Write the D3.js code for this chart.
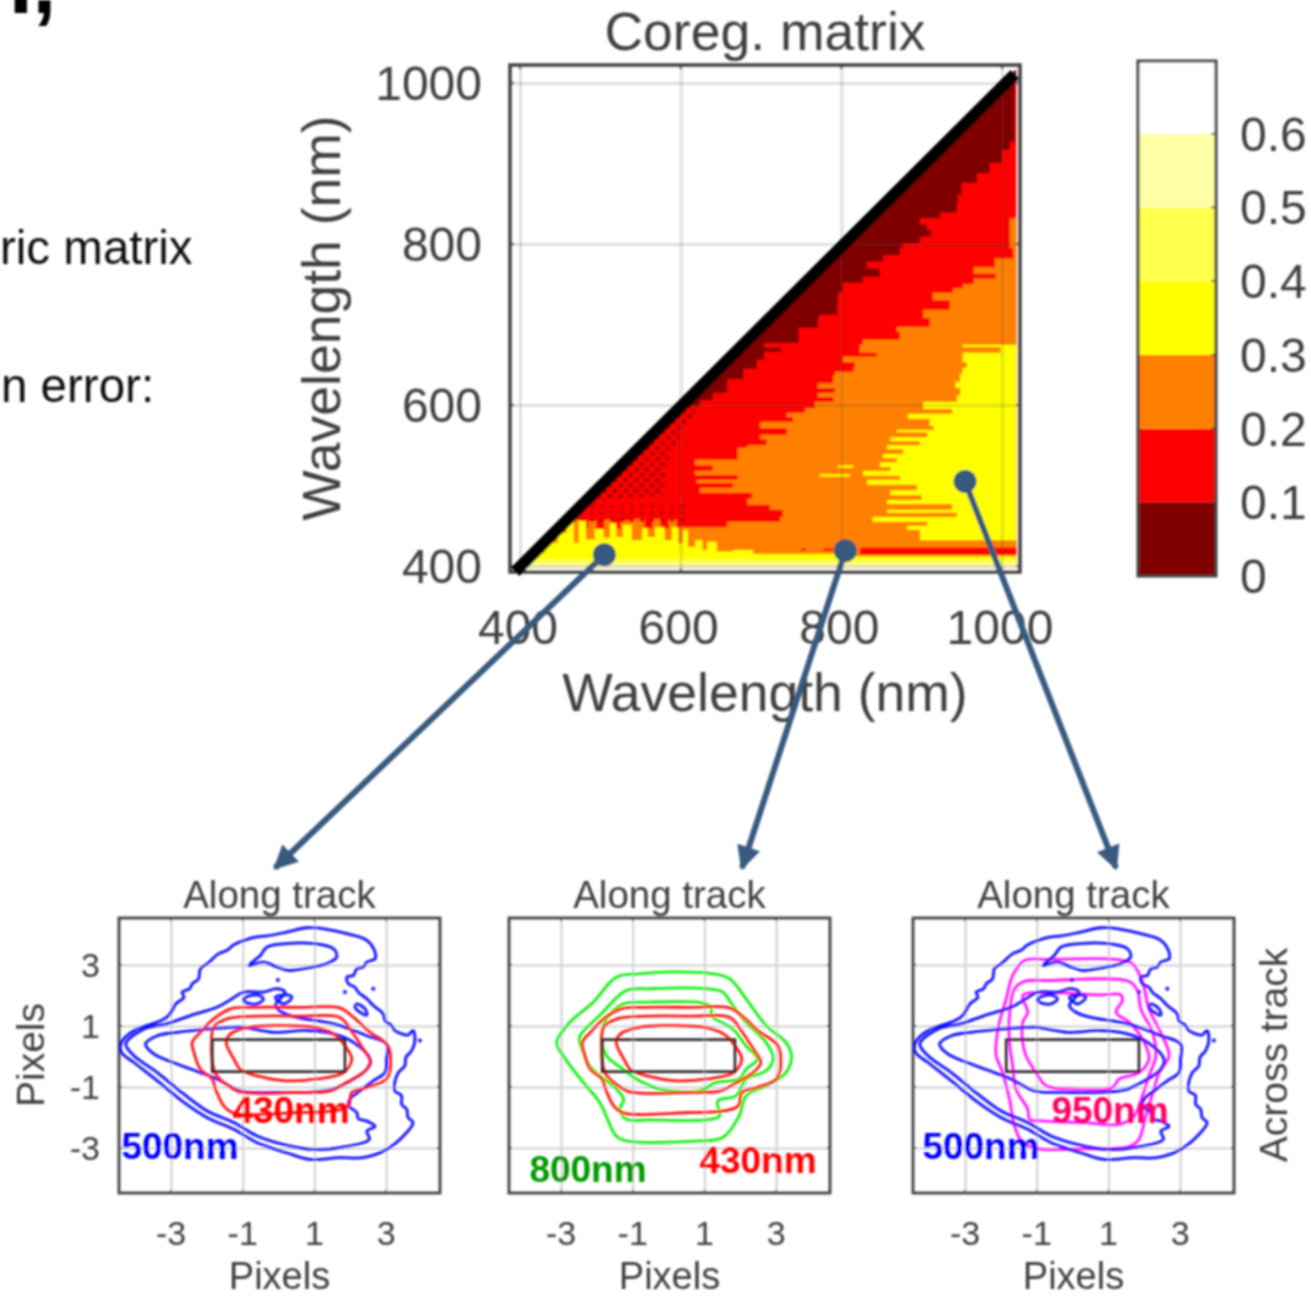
<!DOCTYPE html>
<html>
<head>
<meta charset="utf-8">
<script src="https://d3js.org/d3.v7.min.js"></script>
<style>
  html, body { margin: 0; background: #fff; }
  text { font-family: "Liberation Sans", Arial, sans-serif; }
  svg { display: block; }
</style>
</head>
<body>
<svg id="fig" width="1311" height="1297"></svg>
<script>
// colour levels of the coregistration matrix
var levels = [0, 0.1, 0.2, 0.3, 0.4, 0.5, 0.6, 0.7];
var levelColors = ["#800000", "#ff0000", "#ff8000", "#ffff00", "#ffff4d", "#ffffa6", "#ffffff"];
var barTicks = [0, 0.1, 0.2, 0.3, 0.4, 0.5, 0.6];
var matrixTicks = [400, 600, 800, 1000];
var pixelTicks = [-3, -1, 1, 3];

// band edges in the matrix: x where a colour stops, per wavelength row
var darkEdgeY = [1004,927,917,901,888,876,861,851,839,832,824,817,809,801,796,786,778,770,759,752,740,727,712,709,696,690,677,671,666,656,645,632,615,606,598,590,569,548,528,488,467,446];
var darkEdgeX = [1018,1016,1010,1000,985,969,950,945,944,923,898,907,912,898,877,873,852,832,848,827,802,796,795,773,771,747,747,704,725,704,695,678,658,640,624,605,578,555,530,490,469,439];

var redEdgeY = [832,795,782,771,763,757,750,745,739,730,718,708,697,691,681,675,665,660,653,647,641,637,627,621,615,610,604,596,590,585,579,571,563,557,550,547,532,525,518,513,507,503,497,491,484,476,470,461,455,448,445];
var redEdgeX = [1018,1010,1014,991,965,992,965,951,939,914,935,902,910,869,873,827,823,844,802,817,815,792,790,771,792,771,790,767,755,732,740,699,732,699,707,683,671,618,640,618,671,620,665,624,689,683,711,727,724,658,599];

var orangeEdgeY = [675,672,665,653,646,639,629,621,612,604,595,589,583,574,569,566,560,555,550,545,539,534,529,523,518,512,507,501,494,488,482,477,470,466,461,455,450,445,432,429];
var orangeEdgeX = [1018,951,998,951,956,951,948,942,948,944,902,938,883,910,915,869,907,861,898,857,877,852,869,848,861,827,873,832,894,861,900,857,938,857,944,839,907,882,898,1018];

// stripes low in the matrix: top, bottom, start and end of each
var streakTop = [423, 422, 422];
var streakBottom = [414, 419, 419];
var streakStart = [823, 778, 750];
var streakEnd = [1018, 790, 756];
var paleStreakTop = [525, 514];
var paleStreakBottom = [522, 511];
var paleStreakStart = [796, 773];
var paleStreakEnd = [815, 811];

// wedge along the bottom of the matrix
var wedgeOrangeX = [440,455,465,475,485,495,505,515,525,540,555,565,575,585,595,605];
var wedgeOrangeY = [440,452,457,447,456,445,457,446,456,458,447,458,446,457,446,435];
var wedgeYellowX = [395,413,430,447,458,467,473,482,493,504,512,520,528,539,552,559,568,580,589,597,603,609,618,627,633,645,665,690,799,1018];
var wedgeYellowY = [408,416,429,441,456,429,456,433,446,435,453,436,451,432,447,436,448,432,448,428,445,424,432,420,430,418,420,415,412,412];

// speckled zones next to the diagonal
var hatchX = [624, 603, 583, 578, 470, 590];
var hatchY = [600, 569, 528, 488, 478, 600];
var stippleX = [440, 610, 610, 460];
var stippleY = [452, 452, 478, 478];

// contours, [x, y] in pixels
var blueOuter = [[-4.38,.46],[-4.03,.85],[-3.29,1.17],[-3.06,1.34],[-2.87,1.72],[-2.64,1.94],[-2.69,2.11],[-2.48,2.22],[-2.41,2.38],[-2.23,2.55],[-2.18,2.88],[-1.99,3.04],[-1.67,3.37],[-1.44,3.48],[-1.25,3.66],[-.88,3.84],[-.6,3.92],[-.32,3.95],[.23,4.08],[.79,4.22],[1.34,4.17],[1.9,4.03],[2.46,3.81],[2.69,3.42],[2.69,3.2],[2.46,3.09],[2.36,2.93],[2.18,2.88],[2.09,2.66],[1.9,2.6],[1.95,2.38],[2.13,2.27],[2.22,2.11],[2.46,1.89],[2.64,1.67],[2.92,1.39],[2.97,1.17],[3.15,1.01],[3.24,.85],[3.43,.74],[3.61,.7],[3.75,.85],[3.8,.52],[3.71,.19],[3.55,-.03],[3.52,-.31],[3.34,-.53],[3.24,-.85],[3.24,-1.13],[3.43,-1.29],[3.43,-1.57],[3.57,-1.73],[3.61,-2.01],[3.75,-2.17],[3.48,-2.61],[3.01,-3.05],[2.36,-3.32],[1.71,-3.32],[.88,-3.38],[.23,-3.16],[-.6,-2.83],[-1.25,-2.39],[-1.99,-2.01],[-2.64,-1.51],[-3.38,-.8],[-4.03,-.2],[-4.38,.13]];
var blueMid = [[-4.26,.41],[-3.75,.9],[-3.11,1.07],[-2.46,1.34],[-1.72,1.61],[-1.3,1.89],[-.97,2.11],[-.42,2.11],[-.05,2.22],[.18,2.11],[-.09,1.67],[.09,1.45],[.51,1.28],[1.07,1.17],[1.53,1.07],[1.99,.9],[2.46,.68],[3.01,.41],[3.01,-.09],[2.97,-.53],[2.64,-.8],[2.27,-1.13],[1.99,-1.4],[1.95,-1.62],[2.18,-1.84],[2.22,-2.04],[2.46,-2.12],[2.69,-2.3],[2.46,-2.45],[2.53,-2.72],[1.71,-2.99],[.97,-3.05],[.32,-2.94],[-.6,-2.61],[-1.25,-2.17],[-1.99,-1.79],[-2.64,-1.24],[-3.38,-.53],[-4.03,.02]];
var blueInner = [[-3.71,.41],[-3.38,.68],[-2.83,.79],[-1.9,.9],[-1.07,.96],[-.14,.79],[.79,.85],[1.53,.74],[2.09,.46],[2.55,-.09],[2.46,-.42],[2.09,-.74],[1.53,-1.07],[.79,-1.18],[-.14,-1.18],[-1.07,-1.13],[-1.72,-.74],[-2.18,-.53],[-2.83,-.25],[-3.48,.08]];
var blueIslandTop = [[-.83,2.98],[-.51,3.31],[-.32,3.59],[.23,3.7],[.97,3.7],[1.53,3.53],[1.62,3.26],[1.34,3.04],[.69,2.88],[.28,2.82],[-.14,2.98],[-.42,3.09]];
var blueIslandA = [[2.18,1.72],[2.41,1.56],[2.46,1.36],[2.27,1.45],[2.13,1.61]];
var blueIslandB = [[-.97,1.89],[-.6,2.02],[-.42,1.89],[-.6,1.72],[-.93,1.78]];
var blueIslandC = [[-.09,1.94],[.23,2.02],[.37,1.94],[.14,1.72]];
var blueSpecks = [[2.64,2.22],[3.94,.52],[1.85,2.11],[-.02,2.51]];

var redOuter = [[-2.41,.46],[-2.18,.79],[-1.81,1.23],[-1.34,1.56],[-.79,1.61],[.6,1.61],[1.71,1.59],[2.09,1.28],[2.55,.79],[3.01,.41],[3.12,.02],[3.01,-.74],[2.46,-1.02],[2.04,-1.18],[1.95,-1.62],[1.53,-1.79],[.6,-1.84],[-1.25,-1.86],[-1.53,-1.62],[-1.76,-1.07],[-1.85,-.74],[-2.18,-.42],[-2.36,.13]];
var redMid = [[-1.87,.46],[-1.81,.96],[-1.44,1.23],[-.6,1.32],[.6,1.32],[1.71,1.28],[1.99,.9],[2.36,.24],[2.57,-.2],[2.36,-.53],[1.9,-.85],[1.44,-1.13],[.6,-1.18],[-.6,-1.21],[-1.16,-1.13],[-1.72,-.64],[-1.83,-.31]];
var redInner = [[-1.46,.46],[-1.34,.74],[-.79,.96],[-.05,1.01],[.97,.96],[1.53,.74],[1.85,.35],[2.04,-.09],[1.81,-.53],[1.07,-.74],[.23,-.8],[-.6,-.64],[-1.07,-.42],[-1.25,-.08]];

var greenOuter = [[-3.12,.46],[-2.75,1.12],[-2.1,1.78],[-1.46,2.6],[-.81,2.71],[.12,2.77],[1.23,2.71],[1.7,2.55],[2.16,1.89],[2.72,1.01],[3.27,.46],[3.43,.02],[3.27,-.53],[2.72,-.96],[2.16,-1.29],[1.97,-1.95],[1.51,-2.66],[.86,-2.77],[-1.18,-2.77],[-1.46,-2.61],[-1.92,-1.51],[-2.38,-.85],[-2.94,.02]];
var greenMid = [[-2.48,.63],[-1.92,1.34],[-1.18,2.16],[-.53,2.22],[1.05,2.22],[1.51,2.11],[1.79,1.67],[2.16,1.12],[2.72,.46],[2.92,-.09],[2.72,-.47],[2.16,-.74],[1.88,-1.29],[1.37,-1.46],[1.42,-1.95],[1.05,-2.08],[-.53,-2.08],[-1.18,-2.06],[-1.36,-1.73],[-1.25,-1.4],[-1.55,-.96],[-1.92,-.64],[-2.2,-.31],[-2.38,.13]];
var greenInner = [[-1.87,.63],[-1.73,1.23],[-1.27,1.72],[-.53,1.78],[.95,1.75],[1.19,1.61],[1.19,1.34],[1.79,.9],[2.16,.35],[2.48,-.09],[2.16,-.42],[1.97,-.74],[1.33,-.85],[.86,-1.13],[-.25,-1.07],[-.9,-.74],[-1.27,-.42],[-1.73,.02]];

var magentaOuter = [[-2.13,.46],[-2.04,1.12],[-1.85,1.89],[-1.67,2.66],[-1.34,3.15],[-.65,3.18],[1.21,3.18],[1.67,3.04],[1.95,2.44],[2.13,1.56],[2.5,.68],[2.69,.02],[2.41,-.53],[2.27,-1.07],[2.04,-1.95],[1.85,-2.72],[1.58,-2.96],[.28,-3.03],[-.93,-3.03],[-1.39,-2.83],[-1.62,-2.28],[-1.76,-1.4],[-1.95,-.53],[-2.13,.02]];
var magentaMid = [[-1.76,.46],[-1.76,1.34],[-1.62,2.22],[-1.34,2.46],[-.65,2.49],[1.58,2.46],[1.81,2.16],[1.9,1.56],[2.23,.79],[2.32,.02],[2.13,-.64],[1.95,-1.29],[1.72,-1.95],[1.3,-2.23],[.37,-2.17],[-.74,-2.12],[-1.2,-2.06],[-1.25,-1.73],[-1.58,-1.07],[-1.67,-.31]];
var magentaInner = [[-1.39,.46],[-1.39,1.12],[-1.25,1.45],[-1.39,2],[-.65,2.09],[.74,2.02],[1.34,2.02],[1.39,1.83],[1.21,1.45],[1.58,1.12],[2,.46],[2.13,-.09],[1.85,-.53],[1.3,-.74],[1.11,-1.02],[.09,-1.07],[-.74,-.96],[-1.02,-.53],[-1.3,.02]];

// detector footprint drawn in every small panel
var slitX = [-1.85, 1.85];
var slitY = [-0.5, 0.55];

// picked points in the matrix and the panel each one points to
var pickX = [505, 805, 954];
var pickY = [414, 419, 505];
var pickTipX = [275, 742, 1116];

var grid = "#d8d8d8", ink = "#404040";
var svg = d3.select("#fig");

// everything in the reference is a slightly soft bitmap
var defs = svg.append("defs");
defs.append("filter").attr("id", "soft")
    .attr("x", "-5%").attr("y", "-5%").attr("width", "110%").attr("height", "110%")
  .append("feGaussianBlur").attr("stdDeviation", 0.85);

var root = svg.append("g").attr("filter", "url(#soft)");

// ---- cropped slide text on the left
root.append("text").attr("x", 9).attr("y", 13).attr("font-size", 85).attr("font-weight", "bold").attr("fill", "#000").text("I,");
root.append("text").attr("x", 0).attr("y", 264).attr("font-size", 47.5).attr("fill", "#111").text("ric matrix");
root.append("text").attr("x", 1).attr("y", 402).attr("font-size", 47.5).attr("fill", "#111").text("n error:");

// ---- coregistration matrix
var mx = d3.scaleLinear().domain([400, 1000]).range([520, 1002]);
var my = d3.scaleLinear().domain([400, 1000]).range([566, 83]);
var box = { left: 510, right: 1020, top: 65, bottom: 572 };

var hatch = defs.append("pattern").attr("id", "hatch").attr("patternUnits", "userSpaceOnUse")
    .attr("width", 7.5).attr("height", 7.5).attr("patternTransform", "rotate(45)");
hatch.append("rect").attr("width", 4).attr("height", 4).attr("fill", "#960000");
var stipple = defs.append("pattern").attr("id", "stipple").attr("patternUnits", "userSpaceOnUse")
    .attr("width", 10).attr("height", 7);
stipple.append("rect").attr("width", 4).attr("height", 4).attr("fill", "#d00000");

var tri = [[395, 395], [1018, 1018], [1018, 395]];
var triPath = d3.line().x(function(d) { return mx(d[0]); }).y(function(d) { return my(d[1]); }).curve(d3.curveLinearClosed);
defs.append("clipPath").attr("id", "tri").append("path").attr("d", triPath(tri));

var heat = root.append("g").attr("clip-path", "url(#tri)");
heat.append("path").attr("d", triPath(tri)).attr("fill", levelColors[0]);

function band(ys, xs, color) {
  // colour runs from the edge to the right side of the matrix
  var area = d3.area()
    .y(function(d) { return my(d[1]); })
    .x0(function(d) { return mx(d[0]); })
    .x1(mx(1018))
    .curve(d3.curveStepAfter);
  var pts = ys.map(function(y, i) { return [xs[i], y]; });
  pts.push([xs[xs.length - 1], 395]);
  heat.append("path").attr("d", area(pts)).attr("fill", color);
}
band(darkEdgeY, darkEdgeX, levelColors[1]);
band(redEdgeY, redEdgeX, levelColors[2]);
band(orangeEdgeY, orangeEdgeX, levelColors[3]);

function zone(xs, ys, fill) {
  heat.append("path").attr("d", triPath(xs.map(function(x, i) { return [x, ys[i]]; }))).attr("fill", fill);
}
zone(hatchX, hatchY, "url(#hatch)");

function columns(xs, ys, color) {
  var area = d3.area()
    .x(function(d) { return mx(d[0]); })
    .y0(my(395))
    .y1(function(d) { return my(d[1]); })
    .curve(d3.curveStepAfter);
  heat.append("path").attr("d", area(xs.map(function(x, i) { return [x, ys[i]]; }))).attr("fill", color);
}
function stripes(tops, bottoms, starts, ends, color) {
  heat.append("g").selectAll("rect").data(tops).enter().append("rect")
    .attr("x", function(d, i) { return mx(starts[i]); })
    .attr("width", function(d, i) { return mx(ends[i]) - mx(starts[i]); })
    .attr("y", function(d) { return my(d); })
    .attr("height", function(d, i) { return my(bottoms[i]) - my(d); })
    .attr("fill", color);
}
columns(wedgeOrangeX, wedgeOrangeY, levelColors[2]);
zone(stippleX, stippleY, "url(#stipple)");
stripes(paleStreakTop, paleStreakBottom, paleStreakStart, paleStreakEnd, levelColors[3]);
stripes(streakTop, streakBottom, streakStart, streakEnd, levelColors[1]);
columns(wedgeYellowX, wedgeYellowY, levelColors[3]);
columns([395, 1018], [408, 408], levelColors[4]);
columns([395, 1018], [403, 403], levelColors[5]);
columns([395, 1018], [399, 399], "#fbfbe8");

// grid and axes of a panel
function frame(g, x, y, b, xt, yt, gridWidth, tick, lineWidth, gridColor) {
  g.append("g").attr("transform", "translate(0," + b.bottom + ")")
    .call(d3.axisBottom(x).tickValues(xt).tickSize(b.top - b.bottom).tickFormat(""))
    .call(function(s) { s.select(".domain").remove(); s.selectAll("line").attr("stroke", gridColor).attr("stroke-width", gridWidth); });
  g.append("g").attr("transform", "translate(" + b.left + ",0)")
    .call(d3.axisLeft(y).tickValues(yt).tickSize(b.left - b.right).tickFormat(""))
    .call(function(s) { s.select(".domain").remove(); s.selectAll("line").attr("stroke", gridColor).attr("stroke-width", gridWidth); });
  // short ticks on all four sides
  [b.bottom, b.top].forEach(function(p) {
    g.selectAll(null).data(xt).enter().append("line")
      .attr("x1", x).attr("x2", x)
      .attr("y1", p).attr("y2", p + (p === b.bottom ? -tick : tick))
      .attr("stroke", ink).attr("stroke-width", 1.5);
  });
  [b.left, b.right].forEach(function(p) {
    g.selectAll(null).data(yt).enter().append("line")
      .attr("y1", y).attr("y2", y)
      .attr("x1", p).attr("x2", p + (p === b.left ? tick : -tick))
      .attr("stroke", ink).attr("stroke-width", 1.5);
  });
  g.append("rect").attr("x", b.left).attr("y", b.top)
    .attr("width", b.right - b.left).attr("height", b.bottom - b.top)
    .attr("fill", "none").attr("stroke", ink).attr("stroke-width", lineWidth);
}
frame(root.append("g"), mx, my, box, matrixTicks, matrixTicks, 3, 4, 3.5, "rgba(70,70,70,0.17)");

root.append("line")
  .attr("x1", mx(394)).attr("y1", my(393))
  .attr("x2", mx(1016)).attr("y2", my(1011))
  .attr("stroke", "#000").attr("stroke-width", 12);

function label(x, y, size, anchor, str, rot, color, weight) {
  var t = root.append("text")
    .attr("font-size", size).attr("text-anchor", anchor)
    .attr("fill", color || ink).attr("font-weight", weight || "normal")
    .text(str);
  if (rot) t.attr("transform", "translate(" + x + "," + y + ") rotate(" + rot + ")");
  else t.attr("x", x).attr("y", y);
}
matrixTicks.forEach(function(d) {
  label(mx(d) - 2, 644, 48, "middle", d);
  label(482, my(d) + 17, 48, "end", d);
});
label(765, 50, 53.5, "middle", "Coreg. matrix");
label(765, 711, 53.5, "middle", "Wavelength (nm)");
label(340, 318, 53.5, "middle", "Wavelength (nm)", -90);

// ---- colour bar
var cb = d3.scaleLinear().domain([0, 0.7]).range([576, 60]);
root.append("g").selectAll("rect").data(levelColors).enter().append("rect")
  .attr("x", 1138).attr("width", 78)
  .attr("y", function(d, i) { return cb(levels[i + 1]); })
  .attr("height", function(d, i) { return cb(levels[i]) - cb(levels[i + 1]); })
  .attr("fill", function(d) { return d; });
root.append("rect").attr("x", 1138).attr("y", 61).attr("width", 78).attr("height", 515)
  .attr("fill", "none").attr("stroke", ink).attr("stroke-width", 3);
barTicks.forEach(function(d) {
  root.append("line").attr("x1", 1216).attr("x2", 1211).attr("y1", cb(d)).attr("y2", cb(d)).attr("stroke", ink).attr("stroke-width", 1.5);
  label(1240, cb(d) + 17, 48, "start", d);
});

// ---- small panels
var panelLefts = [119, 509, 913];
var blueSet = { c: [blueOuter, blueMid, blueInner, blueIslandTop, blueIslandA, blueIslandB, blueIslandC], color: "#0c0cff", specks: true };
var redSet = { c: [redOuter, redMid, redInner], color: "#ff1414" };
var panelData = [
  [blueSet, redSet],
  [{ c: [greenOuter, greenMid, greenInner], color: "#12ee12" }, redSet],
  [{ c: [magentaOuter, magentaMid, magentaInner], color: "#ff18ff" }, blueSet]
];
var panelNotes = [
  [["430nm", 291, 1123, "#ff0000"], ["500nm", 180, 1159, "#0000ff"]],
  [["800nm", 588, 1182, "#009900"], ["430nm", 758, 1173, "#ff0000"]],
  [["950nm", 1110, 1123, "#ff0066"], ["500nm", 981, 1159, "#0000ff"]]
];

panelLefts.forEach(function(left, p) {
  var b = { left: left, right: left + 321, top: 918, bottom: 1193 };
  var px = d3.scaleLinear().domain([-4.45, 4.5]).range([b.left, b.right]);
  var py = d3.scaleLinear().domain([-4.48, 4.54]).range([b.bottom, b.top]);
  var g = root.append("g");
  frame(g, px, py, b, pixelTicks, pixelTicks, 2.5, 3, 2.8, grid);

  var contour = d3.line().x(function(d) { return px(d[0]); }).y(function(d) { return py(d[1]); }).curve(d3.curveCatmullRomClosed);
  panelData[p].forEach(function(set) {
    g.append("g").selectAll("path").data(set.c).enter().append("path")
      .attr("d", contour)
      .attr("fill", "none").attr("stroke", set.color).attr("stroke-width", 2.8);
    if (set.specks) {
      g.selectAll(null).data(blueSpecks).enter().append("circle")
        .attr("cx", function(d) { return px(d[0]); }).attr("cy", function(d) { return py(d[1]); })
        .attr("r", 2).attr("fill", set.color);
    }
  });
  g.append("rect")
    .attr("x", px(slitX[0])).attr("width", px(slitX[1]) - px(slitX[0]))
    .attr("y", py(slitY[1])).attr("height", py(slitY[0]) - py(slitY[1]))
    .attr("fill", "none").attr("stroke", "#222").attr("stroke-width", 2.6);

  pixelTicks.forEach(function(d) {
    label(px(d), 1245, 34, "middle", d);
    if (p === 0) label(100, py(d) + 12, 34, "end", d);
  });
  label((b.left + b.right) / 2, 908, 38.5, "middle", "Along track");
  label((b.left + b.right) / 2, 1289, 38, "middle", "Pixels");
  panelNotes[p].forEach(function(n) {
    label(n[1], n[2], 37, "middle", n[0], null, n[3], "bold");
  });
});
label(44, 1055, 39, "middle", "Pixels", -90);
label(1287, 1055, 39, "middle", "Across track", -90);

// ---- arrows from the picked points down to the panels
var steel = "#375a7f";
defs.append("marker").attr("id", "head").attr("viewBox", "0 0 10 10")
    .attr("refX", 9).attr("refY", 5).attr("markerUnits", "userSpaceOnUse")
    .attr("markerWidth", 26).attr("markerHeight", 24).attr("orient", "auto")
  .append("path").attr("d", "M0,0L10,5L0,10Z").attr("fill", steel);
pickX.forEach(function(d, i) {
  root.append("line")
    .attr("x1", mx(d)).attr("y1", my(pickY[i]))
    .attr("x2", pickTipX[i]).attr("y2", 868)
    .attr("stroke", steel).attr("stroke-width", 6)
    .attr("marker-end", "url(#head)");
  root.append("circle").attr("cx", mx(d)).attr("cy", my(pickY[i])).attr("r", 11.5).attr("fill", steel);
});
</script>
</body>
</html>
